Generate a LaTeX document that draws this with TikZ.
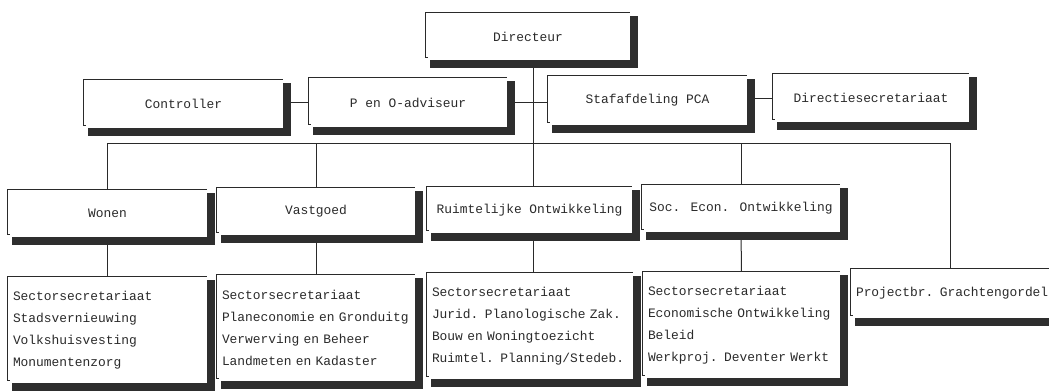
\documentclass[tikz,border=0pt]{standalone}
\usepackage{fontspec}
\newfontfamily\mono{Liberation Mono}
\usepackage{tikz}
\usetikzlibrary{calc}
\definecolor{inkt}{HTML}{2A2A2A}
\definecolor{schaduw}{HTML}{2E2E2E}
% kader: dunne lijn links en boven, schaduw rechts en onder
\newcommand{\kader}[1]{%
	\draw [lijn] ([xshift=2pt,yshift=3pt]#1.south west) -- ([yshift=3pt]#1.south west) -- (#1.north west) -- (#1.north east);
	\fill [schaduw] ([yshift=-3pt]#1.north east) rectangle ([shift={(7.5pt,-8pt)}]#1.south east);
	\fill [schaduw] ([xshift=4pt]#1.south west) rectangle ([shift={(7.5pt,-8pt)}]#1.south east);
}
\begin{document}
\begin{tikzpicture}[x=1pt,y=-1pt,
	lijn/.style={line width=1pt,draw=inkt},
	vak/.style={inner sep=0pt,text=inkt,font=\mono\fontsize{12.9}{22}\selectfont},
	lijst/.style={vak,inner xsep=5pt,align=left,text width=#1}]
		\clip (0,0) rectangle (1049,391);
		% Directie
		\node [vak,minimum width=204pt,minimum height=47pt] (dir) at (528,36.5) {Directeur};
		% Staf
		\node [vak,minimum width=199pt,minimum height=48pt] (contr) at (183.5,104) {Controller};
		\node [vak,minimum width=198pt,minimum height=49pt] (peno) at (408,102.5) {P en O-adviseur};
		\node [vak,minimum width=199pt,minimum height=49pt] (staf) at (647.5,100.5) {Stafafdeling PCA};
		\node [vak,minimum width=196pt,minimum height=48pt] (dirsec) at (871,98) {Directiesecretariaat};
		% Sectoren
		\node [vak,minimum width=199pt,minimum height=47pt] (wonen) at (107.5,213.5) {Wonen};
		\node [vak,minimum width=198pt,minimum height=47pt] (vast) at (316,211.5) {Vastgoed};
		\node [vak,minimum width=205pt,minimum height=46pt] (ruimte) at (529.5,210) {Ruimtelijke Ontwikkeling};
		\node [vak,minimum width=198pt,minimum height=47pt] (soc) at (741,208.5) {Soc. Econ. Ontwikkeling};
		% Afdelingen
		\node [lijst=189pt,minimum height=106pt] (wonenl) at (107.5,330) {Sectorsecretariaat\\Stadsvernieuwing\\Volkshuisvesting\\Monumentenzorg};
		\node [lijst=188pt,minimum height=106pt] (vastl) at (316,328) {Sectorsecretariaat\\\mbox{Planeconomie en Gronduitg}\\Verwerving en Beheer\\Landmeten en Kadaster};
		\node [lijst=196pt,minimum height=106pt] (ruimtel) at (530,326) {Sectorsecretariaat\\\mbox{Jurid. Planologische Zak.}\\Bouw en Woningtoezicht\\\mbox{Ruimtel. Planning/Stedeb.}};
		\node [lijst=187pt,minimum height=106pt] (socl) at (741.5,325) {Sectorsecretariaat\\\mbox{Economische Ontwikkeling}\\Beleid\\\mbox{Werkproj. Deventer Werkt}};
		\node [lijst=200pt,minimum height=49pt] (proj) at (956,293.5) {\mbox{Projectbr. Grachtengordel}};
		
		% Verbindingen
		\coordinate (stam) at (533,143);
		\coordinate (pb) at (950,143);
		\draw [lijn] (dir.south -| stam) -- (ruimte.north -| stam);
		\draw [lijn] (ruimte.south -| stam) -- (ruimtel.north -| stam);
		\draw [lijn] (contr.east |- peno.west) -- (peno.west);
		\draw [lijn] (peno.east) -- (peno.east -| staf.west);
		\draw [lijn] (staf.east |- dirsec.west) -- (dirsec.west);
		\draw [lijn] (wonen.north |- stam) -- (pb) -- (pb |- proj.north);
		\draw [lijn] (wonen.north |- stam) -- (wonen.north);
		\draw [lijn] (vast.north |- stam) -- (vast.north);
		\draw [lijn] (soc.north |- stam) -- (soc.north);
		\draw [lijn] (wonen.south) -- (wonenl.north);
		\draw [lijn] (vast.south) -- (vastl.north);
		\draw [lijn] (soc.south) -- (socl.north);
		
		% Kaders
		\foreach \k in {dir,contr,peno,staf,dirsec,wonen,vast,ruimte,soc,wonenl,vastl,ruimtel,socl,proj}
			{\kader{\k}}
\end{tikzpicture}
\end{document}
